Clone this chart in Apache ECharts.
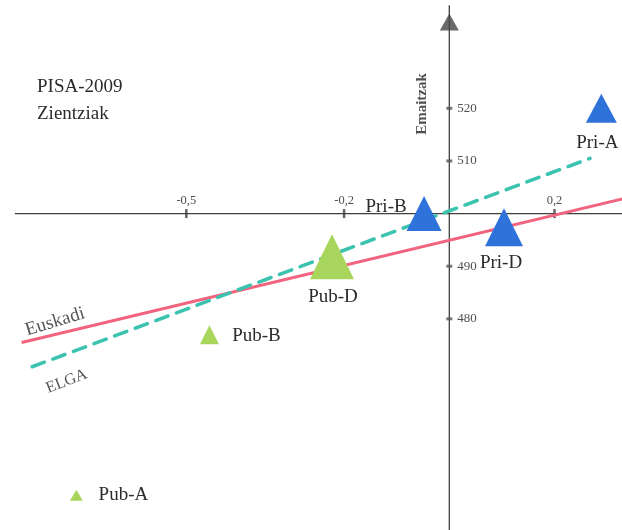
<!DOCTYPE html>
<html>
<head>
<meta charset="utf-8">
<script src="https://cdn.jsdelivr.net/npm/echarts@6/dist/echarts.min.js"></script>
<style>
  html, body { margin: 0; padding: 0; background: #ffffff; }
  #chart { width: 622px; height: 530px; }
</style>
</head>
<body>
<div id="chart"></div>
<script>
// ---------------- DATA ----------------
const groups   = ['Pri-A', 'Pri-B', 'Pri-D', 'Pub-D', 'Pub-B', 'Pub-A'];
const sector   = ['Pri', 'Pri', 'Pri', 'Pub', 'Pub', 'Pub'];
const isek     = [0.289, -0.048, 0.104, -0.223, -0.456, -0.709];   // ISEK index
const emaitzak = [520, 500, 497.4, 491.8, 477.0, 446.5];           // results
const euskadiLine = [[-0.813, 475.5], [0.33, 502.8]];               // Euskadi regression
const elgaLine    = [[-0.793, 470.9], [0.2675, 510.5]];             // ELGA regression
const xTickValues = [-0.5, -0.2, 0.2];
const xTickLabels = ['-0,5', '-0,2', '0,2'];
const yTickValues = [520, 510, 490, 480];
const yTickLabels = ['520', '510', '490', '480'];
const titleLines  = ['PISA-2009', 'Zientziak'];

// ---------------- STYLE / LAYOUT ----------------
const XMIN = -0.8542, XMAX = 0.3283, YMIN = 439.88, YMAX = 540.58;
const X_AXIS_START = -0.826, Y_AXIS_TOP = 539.6, Y_ARROW = 536.4, X_ARROW = 0.3293;
const SERIF = "'Liberation Serif', 'DejaVu Serif', serif";
const TEXT = '#2b2b2b';
const AXIS = '#3f3f3f';
const colors = { Pri: '#2f72d9', Pub: '#a8d65c' };
const markerSize = { 'Pri-A': [31, 29], 'Pri-B': [35, 35], 'Pri-D': [38, 38],
                     'Pub-D': [44, 45], 'Pub-B': [19, 19], 'Pub-A': [13, 11] };
const labelOffset = { 'Pri-A': [-4, 35], 'Pri-B': [-38, -7], 'Pri-D': [-3, 36],
                      'Pub-D': [1, 40], 'Pub-B': [47, 1], 'Pub-A': [47, 0] };

function pointSeries(sec) {
  const data = [];
  groups.forEach((g, i) => {
    if (sector[i] !== sec) return;
    data.push({
      name: g,
      value: [isek[i], emaitzak[i]],
      symbolSize: markerSize[g],
      label: { offset: labelOffset[g] }
    });
  });
  return {
    type: 'scatter', name: sec, z: 5, symbol: 'triangle',
    itemStyle: { color: colors[sec], opacity: 1 },
    label: { show: true, position: 'inside', formatter: '{b}',
             color: TEXT, fontFamily: SERIF, fontSize: 19 },
    data: data
  };
}

const option = {
  backgroundColor: '#ffffff',
  animation: false,
  grid: { left: 0, right: 0, top: 0, bottom: 0 },
  xAxis: { type: 'value', min: XMIN, max: XMAX, show: false },
  yAxis: { type: 'value', min: YMIN, max: YMAX, show: false },
  graphic: [
    { type: 'text', left: 37, top: 78, style: { text: titleLines[0], font: '19px ' + SERIF, fill: TEXT } },
    { type: 'text', left: 37, top: 105, style: { text: titleLines[1], font: '19px ' + SERIF, fill: TEXT } }
  ],
  series: [
    // axes lines
    { type: 'line', z: 1, symbol: 'none', silent: true,
      lineStyle: { color: AXIS, width: 1.3 },
      data: [[X_AXIS_START, 500], [XMAX + 0.02, 500]] },
    { type: 'line', z: 1, symbol: 'none', silent: true,
      lineStyle: { color: AXIS, width: 1.3 },
      data: [[0, YMIN - 1], [0, Y_AXIS_TOP]] },
    // axis arrows with axis names
    { type: 'scatter', z: 2, symbol: 'triangle', silent: true,
      itemStyle: { color: '#454545' },
      data: [
        { value: [0, Y_ARROW], symbolSize: [19, 17],
          label: { show: true, formatter: 'Emaitzak', position: 'inside', rotate: 90,
                   offset: [-82, -27], color: '#222', fontFamily: SERIF, fontSize: 15, fontWeight: 'bold' } },
        { value: [X_ARROW, 500], symbolSize: [15, 15], symbolRotate: -90,
          label: { show: true, formatter: 'ISEK', position: 'inside',
                   offset: [-43, 29], color: '#222', fontFamily: SERIF, fontSize: 13, fontWeight: 'bold' } }
      ] },
    // x ticks
    { type: 'scatter', z: 2, symbol: 'rect', symbolSize: [2.5, 9], silent: true,
      itemStyle: { color: AXIS },
      label: { show: true, position: 'top', distance: 2, color: '#222', fontFamily: SERIF, fontSize: 12.5,
               formatter: p => xTickLabels[p.dataIndex] },
      data: xTickValues.map(v => [v, 500]) },
    // y ticks
    { type: 'scatter', z: 2, symbol: 'rect', symbolSize: [6, 3], silent: true,
      itemStyle: { color: '#555' },
      label: { show: true, position: 'right', distance: 5, color: '#222', fontFamily: SERIF, fontSize: 13,
               formatter: p => yTickLabels[p.dataIndex] },
      data: yTickValues.map(v => [0, v]) },
    // regression lines
    { type: 'line', name: 'Euskadi', z: 3, symbol: 'none', silent: true,
      lineStyle: { color: '#f2647e', width: 3 },
      data: euskadiLine },
    { type: 'line', name: 'ELGA', z: 3, symbol: 'none', silent: true,
      lineStyle: { color: '#3cc3b0', width: 3.5, type: [13, 9], cap: 'round' },
      data: elgaLine },
    // line names
    { type: 'scatter', z: 4, symbolSize: 0, silent: true,
      label: { show: true, position: 'inside', color: TEXT, fontFamily: SERIF },
      data: [
        { value: euskadiLine[0], label: { formatter: 'Euskadi', rotate: 17, offset: [38, -10], fontSize: 19 } },
        { value: elgaLine[0], label: { formatter: 'ELGA', rotate: 21, offset: [27, 26], fontSize: 16 } }
      ] },
    pointSeries('Pri'),
    pointSeries('Pub')
  ]
};

const chart = echarts.init(document.getElementById('chart'), null, { renderer: 'canvas' });
chart.setOption(option);
</script>
</body>
</html>
